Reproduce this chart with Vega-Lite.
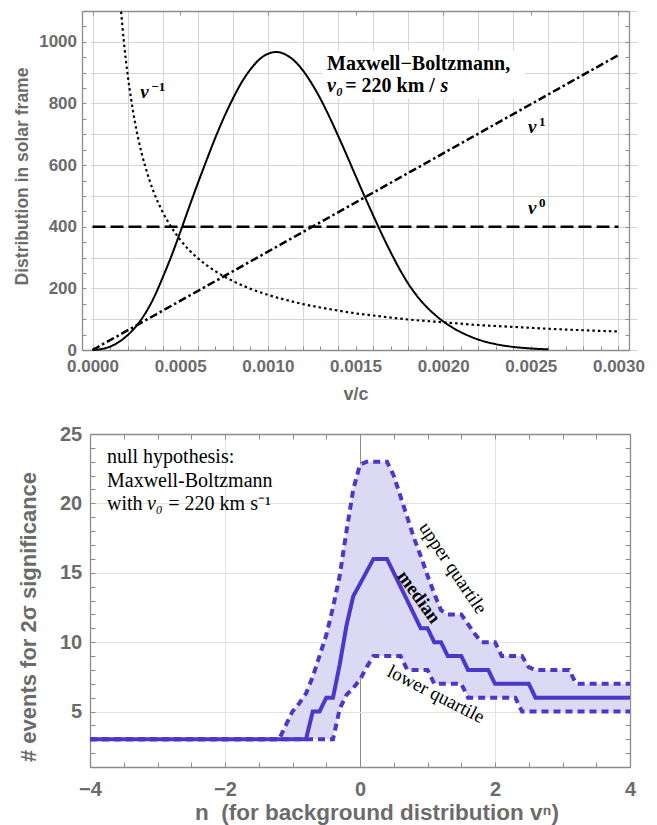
{
  "$schema": "https://vega.github.io/schema/vega-lite/v6.json",
  "padding": {"left": 13, "top": 2, "right": 10, "bottom": 2},
  "spacing": 21,
  "config": {
    "view": {"stroke": null},
    "font": "Liberation Sans",
    "axis": {
      "labelFont": "Liberation Sans", "titleFont": "Liberation Sans",
      "labelFontWeight": "bold", "titleFontWeight": "bold",
      "labelColor": "#6b6b6b", "titleColor": "#6b6b6b",
      "domainColor": "#8c8c8c", "tickColor": "#8c8c8c", "domainWidth": 1.3, "tickWidth": 1,
      "gridColor": "#d4d4d4", "gridWidth": 1,
      "labelOverlap": false, "labelFlush": false, "labelBound": false
    }
  },
  "datasets": {
    "curves": [
      {"curve": "MB", "v": 0, "f": 0}, {"curve": "MB", "v": 0.00005, "f": 3}, {"curve": "MB", "v": 0.0001, "f": 11},
      {"curve": "MB", "v": 0.00015, "f": 26}, {"curve": "MB", "v": 0.0002, "f": 48}, {"curve": "MB", "v": 0.00025, "f": 78},
      {"curve": "MB", "v": 0.0003, "f": 118}, {"curve": "MB", "v": 0.00035, "f": 170}, {"curve": "MB", "v": 0.0004, "f": 235},
      {"curve": "MB", "v": 0.00045, "f": 305}, {"curve": "MB", "v": 0.0005, "f": 382}, {"curve": "MB", "v": 0.00055, "f": 462},
      {"curve": "MB", "v": 0.0006, "f": 540}, {"curve": "MB", "v": 0.00065, "f": 615}, {"curve": "MB", "v": 0.0007, "f": 688},
      {"curve": "MB", "v": 0.00075, "f": 755}, {"curve": "MB", "v": 0.0008, "f": 815}, {"curve": "MB", "v": 0.00085, "f": 868},
      {"curve": "MB", "v": 0.0009, "f": 910}, {"curve": "MB", "v": 0.00095, "f": 942}, {"curve": "MB", "v": 0.001, "f": 961},
      {"curve": "MB", "v": 0.00105, "f": 967}, {"curve": "MB", "v": 0.0011, "f": 959}, {"curve": "MB", "v": 0.00115, "f": 939},
      {"curve": "MB", "v": 0.0012, "f": 907}, {"curve": "MB", "v": 0.00125, "f": 865}, {"curve": "MB", "v": 0.0013, "f": 815},
      {"curve": "MB", "v": 0.00135, "f": 758}, {"curve": "MB", "v": 0.0014, "f": 696}, {"curve": "MB", "v": 0.00145, "f": 632},
      {"curve": "MB", "v": 0.0015, "f": 566}, {"curve": "MB", "v": 0.00155, "f": 501}, {"curve": "MB", "v": 0.0016, "f": 438},
      {"curve": "MB", "v": 0.00165, "f": 376}, {"curve": "MB", "v": 0.0017, "f": 318}, {"curve": "MB", "v": 0.00175, "f": 264},
      {"curve": "MB", "v": 0.0018, "f": 216}, {"curve": "MB", "v": 0.00185, "f": 176}, {"curve": "MB", "v": 0.0019, "f": 143},
      {"curve": "MB", "v": 0.00195, "f": 116}, {"curve": "MB", "v": 0.002, "f": 93}, {"curve": "MB", "v": 0.00205, "f": 74},
      {"curve": "MB", "v": 0.0021, "f": 58}, {"curve": "MB", "v": 0.00215, "f": 45}, {"curve": "MB", "v": 0.0022, "f": 34},
      {"curve": "MB", "v": 0.0023, "f": 19}, {"curve": "MB", "v": 0.0024, "f": 10}, {"curve": "MB", "v": 0.0025, "f": 5},
      {"curve": "MB", "v": 0.0026, "f": 2},
      {"curve": "inv", "v": 0.000163, "f": 1098}, {"curve": "inv", "v": 0.00017, "f": 1053}, {"curve": "inv", "v": 0.00018, "f": 994},
      {"curve": "inv", "v": 0.00019, "f": 942}, {"curve": "inv", "v": 0.0002, "f": 895}, {"curve": "inv", "v": 0.00022, "f": 814},
      {"curve": "inv", "v": 0.00024, "f": 746}, {"curve": "inv", "v": 0.00026, "f": 688}, {"curve": "inv", "v": 0.00028, "f": 639},
      {"curve": "inv", "v": 0.0003, "f": 597}, {"curve": "inv", "v": 0.00035, "f": 511}, {"curve": "inv", "v": 0.0004, "f": 448},
      {"curve": "inv", "v": 0.00045, "f": 398}, {"curve": "inv", "v": 0.0005, "f": 358}, {"curve": "inv", "v": 0.00055, "f": 325},
      {"curve": "inv", "v": 0.0006, "f": 298}, {"curve": "inv", "v": 0.0007, "f": 256}, {"curve": "inv", "v": 0.0008, "f": 224},
      {"curve": "inv", "v": 0.0009, "f": 199}, {"curve": "inv", "v": 0.001, "f": 179}, {"curve": "inv", "v": 0.0011, "f": 163},
      {"curve": "inv", "v": 0.0012, "f": 149}, {"curve": "inv", "v": 0.0013, "f": 138}, {"curve": "inv", "v": 0.0014, "f": 128},
      {"curve": "inv", "v": 0.0015, "f": 119}, {"curve": "inv", "v": 0.0016, "f": 112}, {"curve": "inv", "v": 0.0018, "f": 99},
      {"curve": "inv", "v": 0.002, "f": 90}, {"curve": "inv", "v": 0.0022, "f": 81}, {"curve": "inv", "v": 0.0024, "f": 75},
      {"curve": "inv", "v": 0.0026, "f": 69}, {"curve": "inv", "v": 0.0028, "f": 64}, {"curve": "inv", "v": 0.003, "f": 60},
      {"curve": "flat", "v": 0, "f": 400}, {"curve": "flat", "v": 0.003, "f": 400},
      {"curve": "lin", "v": 0, "f": 0}, {"curve": "lin", "v": 0.003, "f": 957}
    ],
    "band": [
      {"n": -4.0, "lo": 3, "med": 3, "hi": 3},
      {"n": -1.3, "lo": 3, "med": 3, "hi": 3},
      {"n": -1.2, "lo": 3, "med": 3, "hi": 3},
      {"n": -1.1, "lo": 3, "med": 3, "hi": 4},
      {"n": -1.0, "lo": 3, "med": 3, "hi": 5},
      {"n": -0.9, "lo": 3, "med": 3, "hi": 5.6},
      {"n": -0.8, "lo": 3, "med": 3, "hi": 6.3},
      {"n": -0.7, "lo": 3, "med": 5, "hi": 7.5},
      {"n": -0.6, "lo": 3, "med": 5, "hi": 9},
      {"n": -0.5, "lo": 3, "med": 6, "hi": 10.5},
      {"n": -0.4, "lo": 3, "med": 6, "hi": 12.5},
      {"n": -0.3, "lo": 5.2, "med": 8.4, "hi": 14.8},
      {"n": -0.2, "lo": 6.2, "med": 11.2, "hi": 18},
      {"n": -0.1, "lo": 6.7, "med": 13.3, "hi": 21},
      {"n": 0.0, "lo": 7.3, "med": 14.2, "hi": 22.8},
      {"n": 0.1, "lo": 8.2, "med": 15.1, "hi": 23},
      {"n": 0.2, "lo": 9, "med": 16, "hi": 23},
      {"n": 0.3, "lo": 9, "med": 16, "hi": 23},
      {"n": 0.4, "lo": 9, "med": 16, "hi": 23},
      {"n": 0.5, "lo": 9, "med": 15, "hi": 22},
      {"n": 0.6, "lo": 9, "med": 14, "hi": 20.5},
      {"n": 0.7, "lo": 8, "med": 13, "hi": 19},
      {"n": 0.8, "lo": 8, "med": 12, "hi": 17.5},
      {"n": 0.9, "lo": 8, "med": 11, "hi": 16.2},
      {"n": 1.0, "lo": 8, "med": 11, "hi": 14.8},
      {"n": 1.1, "lo": 7, "med": 10, "hi": 13.5},
      {"n": 1.2, "lo": 7, "med": 10, "hi": 12.3},
      {"n": 1.3, "lo": 7, "med": 9, "hi": 12},
      {"n": 1.4, "lo": 7, "med": 9, "hi": 12},
      {"n": 1.5, "lo": 7, "med": 9, "hi": 12},
      {"n": 1.6, "lo": 6, "med": 8, "hi": 11.3},
      {"n": 1.7, "lo": 6, "med": 8, "hi": 10.6},
      {"n": 1.8, "lo": 6, "med": 8, "hi": 10},
      {"n": 1.9, "lo": 6, "med": 8, "hi": 10},
      {"n": 2.0, "lo": 6, "med": 7, "hi": 10},
      {"n": 2.1, "lo": 6, "med": 7, "hi": 9},
      {"n": 2.2, "lo": 6, "med": 7, "hi": 9},
      {"n": 2.3, "lo": 6, "med": 7, "hi": 9},
      {"n": 2.4, "lo": 5, "med": 7, "hi": 9},
      {"n": 2.5, "lo": 5, "med": 7, "hi": 8.2},
      {"n": 2.6, "lo": 5, "med": 6, "hi": 8},
      {"n": 2.7, "lo": 5, "med": 6, "hi": 8},
      {"n": 2.8, "lo": 5, "med": 6, "hi": 8},
      {"n": 2.9, "lo": 5, "med": 6, "hi": 8},
      {"n": 3.0, "lo": 5, "med": 6, "hi": 8},
      {"n": 3.1, "lo": 5, "med": 6, "hi": 8},
      {"n": 3.2, "lo": 5, "med": 6, "hi": 7},
      {"n": 3.3, "lo": 5, "med": 6, "hi": 7},
      {"n": 3.6, "lo": 5, "med": 6, "hi": 7},
      {"n": 4.0, "lo": 5, "med": 6, "hi": 7}
    ]
  },
  "vconcat": [
    {
      "width": 539,
      "height": 339,
      "layer": [
        {
          "data": {"values": [{}]},
          "mark": {"type": "rect", "fill": "white"},
          "encoding": {
            "x": {"datum": 0.00131, "type": "quantitative",
              "scale": {"domain": [-0.00006, 0.00306], "range": [-8, 539], "nice": false, "zero": false},
              "axis": {
                "orient": "top",
                "values": [0,0.0001,0.0002,0.0003,0.0004,0.0005,0.0006,0.0007,0.0008,0.0009,0.001,0.0011,0.0012,0.0013,0.0014,0.0015,0.0016,0.0017,0.0018,0.0019,0.002,0.0021,0.0022,0.0023,0.0024,0.0025,0.0026,0.0027,0.0028,0.0029,0.003],
                "labels": false, "tickSize": -4,
                "tickOpacity": {"condition": {"test": "round(datum.value*10000) % 5 == 0", "value": 1}, "value": 0},
                "grid": true,
                "gridOpacity": {"condition": {"test": "round(datum.value*10000) % 2 == 0", "value": 1}, "value": 0},
                "title": null
              }
            },
            "x2": {"datum": 0.002467},
            "y": {"datum": 971, "type": "quantitative",
              "scale": {"domain": [0, 1100], "nice": false, "zero": false},
              "axis": {
                "orient": "right",
                "values": [0,50,100,150,200,250,300,350,400,450,500,550,600,650,700,750,800,850,900,950,1000,1050,1100],
                "labels": false, "tickSize": -4,
                "grid": true,
                "gridOpacity": {"condition": {"test": "datum.value % 100 == 0", "value": 1}, "value": 0},
                "title": null
              }
            },
            "y2": {"datum": 815}
          }
        },
        {
          "data": {"name": "curves"},
          "mark": {"type": "line", "color": "black", "interpolate": "monotone", "strokeCap": "butt"},
          "encoding": {
            "x": {"field": "v", "type": "quantitative",
              "axis": {
                "orient": "bottom",
                "values": [0,0.0001,0.0002,0.0003,0.0004,0.0005,0.0006,0.0007,0.0008,0.0009,0.001,0.0011,0.0012,0.0013,0.0014,0.0015,0.0016,0.0017,0.0018,0.0019,0.002,0.0021,0.0022,0.0023,0.0024,0.0025,0.0026,0.0027,0.0028,0.0029,0.003],
                "labelExpr": "round(datum.value*10000) % 5 == 0 ? format(datum.value, '.4f') : ''",
                "labelFontSize": 17, "labelBaseline": "alphabetic", "labelPadding": 25.5,
                "tickSize": -4, "grid": false,
                "title": "v/c", "titleFontSize": 18, "titleBaseline": "alphabetic", "titleX": 265.5, "titleY": 49
              }
            },
            "y": {"field": "f", "type": "quantitative",
              "axis": {
                "orient": "left", "offset": 8,
                "values": [0,50,100,150,200,250,300,350,400,450,500,550,600,650,700,750,800,850,900,950,1000,1050,1100],
                "labelExpr": "datum.value % 200 == 0 ? format(datum.value, 'd') : ''",
                "labelFontSize": 17, "labelBaseline": "middle", "labelPadding": 9.5,
                "tickSize": -4, "grid": false,
                "title": "Distribution in solar frame", "titleFontSize": 17.5, "titleBaseline": "alphabetic", "titleX": -55, "titleY": 165
              }
            },
            "strokeDash": {"field": "curve", "type": "nominal",
              "scale": {"domain": ["MB", "inv", "flat", "lin"], "range": [[1, 0], [2.5, 3], [13, 5], [8, 3, 2.5, 3]]},
              "legend": null},
            "strokeWidth": {"field": "curve", "type": "nominal",
              "scale": {"domain": ["MB", "inv", "flat", "lin"], "range": [2, 2.5, 2.2, 2.2]},
              "legend": null}
          }
        },
        {
          "data": {"values": [{}]},
          "mark": {"type": "text", "font": "Liberation Serif", "fontSize": 20, "fontWeight": "bold", "align": "left", "baseline": "alphabetic", "color": "black", "text": "Maxwell−Boltzmann,"},
          "encoding": {"x": {"datum": 0.001338, "type": "quantitative", "axis": null}, "y": {"datum": 908, "type": "quantitative", "axis": null}}
        },
        {
          "data": {"values": [{}]},
          "mark": {"type": "text", "font": "Liberation Serif", "fontSize": 20, "fontWeight": "bold", "fontStyle": "italic", "align": "left", "baseline": "alphabetic", "color": "black", "text": "v₀"},
          "encoding": {"x": {"datum": 0.001338, "type": "quantitative", "axis": null}, "y": {"datum": 838, "type": "quantitative", "axis": null}}
        },
        {
          "data": {"values": [{}]},
          "mark": {"type": "text", "font": "Liberation Serif", "fontSize": 20, "fontWeight": "bold", "align": "left", "baseline": "alphabetic", "color": "black", "text": "= 220 km /"},
          "encoding": {"x": {"datum": 0.001441, "type": "quantitative", "axis": null}, "y": {"datum": 838, "type": "quantitative", "axis": null}}
        },
        {
          "data": {"values": [{}]},
          "mark": {"type": "text", "font": "Liberation Serif", "fontSize": 20, "fontWeight": "bold", "fontStyle": "italic", "align": "left", "baseline": "alphabetic", "color": "black", "text": "s"},
          "encoding": {"x": {"datum": 0.001985, "type": "quantitative", "axis": null}, "y": {"datum": 838, "type": "quantitative", "axis": null}}
        },
        {
          "data": {"values": [{}]},
          "mark": {"type": "text", "font": "Liberation Serif", "fontSize": 19, "fontWeight": "bold", "fontStyle": "italic", "align": "left", "baseline": "alphabetic", "color": "black", "text": "ν"},
          "encoding": {"x": {"datum": 0.000272, "type": "quantitative", "axis": null}, "y": {"datum": 818, "type": "quantitative", "axis": null}}
        },
        {
          "data": {"values": [{}]},
          "mark": {"type": "text", "font": "Liberation Serif", "fontSize": 13, "fontWeight": "bold", "align": "left", "baseline": "alphabetic", "color": "black", "text": "−1"},
          "encoding": {"x": {"datum": 0.000335, "type": "quantitative", "axis": null}, "y": {"datum": 840, "type": "quantitative", "axis": null}}
        },
        {
          "data": {"values": [{}]},
          "mark": {"type": "text", "font": "Liberation Serif", "fontSize": 19, "fontWeight": "bold", "fontStyle": "italic", "align": "left", "baseline": "alphabetic", "color": "black", "text": "ν"},
          "encoding": {"x": {"datum": 0.002484, "type": "quantitative", "axis": null}, "y": {"datum": 704, "type": "quantitative", "axis": null}}
        },
        {
          "data": {"values": [{}]},
          "mark": {"type": "text", "font": "Liberation Serif", "fontSize": 13, "fontWeight": "bold", "align": "left", "baseline": "alphabetic", "color": "black", "text": "1"},
          "encoding": {"x": {"datum": 0.002546, "type": "quantitative", "axis": null}, "y": {"datum": 726, "type": "quantitative", "axis": null}}
        },
        {
          "data": {"values": [{}]},
          "mark": {"type": "text", "font": "Liberation Serif", "fontSize": 19, "fontWeight": "bold", "fontStyle": "italic", "align": "left", "baseline": "alphabetic", "color": "black", "text": "ν"},
          "encoding": {"x": {"datum": 0.002484, "type": "quantitative", "axis": null}, "y": {"datum": 442, "type": "quantitative", "axis": null}}
        },
        {
          "data": {"values": [{}]},
          "mark": {"type": "text", "font": "Liberation Serif", "fontSize": 13, "fontWeight": "bold", "align": "left", "baseline": "alphabetic", "color": "black", "text": "0"},
          "encoding": {"x": {"datum": 0.002546, "type": "quantitative", "axis": null}, "y": {"datum": 464, "type": "quantitative", "axis": null}}
        }
      ]
    },
    {
      "width": 540,
      "height": 333,
      "layer": [
        {
          "data": {"name": "band"},
          "mark": {"type": "area", "color": "#dcd9f5", "opacity": 1},
          "encoding": {
            "x": {"field": "n", "type": "quantitative",
              "scale": {"domain": [-4, 4], "nice": false, "zero": false},
              "axis": {
                "orient": "bottom",
                "values": [-4,-3.5,-3,-2.5,-2,-1.5,-1,-0.5,0,0.5,1,1.5,2,2.5,3,3.5,4],
                "labelExpr": "datum.value % 2 == 0 ? format(datum.value, 'd') : ''",
                "labelFontSize": 20, "labelBaseline": "alphabetic", "labelPadding": 33.5,
                "tickSize": -5, "grid": false,
                "title": "n\u00a0 (for background distribution vⁿ)", "titleFontSize": 22.5, "titleBaseline": "alphabetic", "titleX": 286.5, "titleY": 52
              }
            },
            "y": {"field": "lo", "type": "quantitative",
              "scale": {"domain": [1, 25], "nice": false, "zero": false},
              "axis": {
                "orient": "left",
                "values": [1,2,3,4,5,6,7,8,9,10,11,12,13,14,15,16,17,18,19,20,21,22,23,24,25],
                "labelExpr": "datum.value % 5 == 0 ? format(datum.value, 'd') : ''",
                "labelFontSize": 20, "labelBaseline": "middle", "labelPadding": 13.3,
                "tickSize": -5, "grid": false,
                "title": "# events for 2σ significance", "titleFontSize": 22, "titleBaseline": "alphabetic", "titleX": -55, "titleY": 182.5
              }
            },
            "y2": {"field": "hi"}
          }
        },
        {
          "data": {"name": "band"},
          "mark": {"type": "line", "color": "#4b38c9", "strokeWidth": 4, "strokeDash": [7, 5], "strokeCap": "butt"},
          "encoding": {
            "x": {"field": "n", "type": "quantitative",
              "axis": {
                "orient": "top",
                "values": [-4,-3.5,-3,-2.5,-2,-1.5,-1,-0.5,0,0.5,1,1.5,2,2.5,3,3.5,4],
                "labels": false, "tickSize": -5, "grid": true,
                "gridOpacity": {"condition": {"test": "datum.value % 2 == 0 && abs(datum.value) < 4", "value": 1}, "value": 0},
                "gridColor": {"condition": {"test": "datum.value == 0", "value": "#8c8c8c"}, "value": "#e3e3e3"},
                "title": null
              }
            },
            "y": {"field": "hi", "type": "quantitative",
              "axis": {
                "orient": "right",
                "values": [1,2,3,4,5,6,7,8,9,10,11,12,13,14,15,16,17,18,19,20,21,22,23,24,25],
                "labels": false, "tickSize": -5, "grid": true,
                "gridOpacity": {"condition": {"test": "datum.value % 5 == 0 && datum.value < 25", "value": 1}, "value": 0},
                "gridColor": "#e3e3e3",
                "title": null
              }
            }
          }
        },
        {
          "data": {"name": "band"},
          "mark": {"type": "line", "color": "#4b38c9", "strokeWidth": 4, "strokeDash": [7, 5], "strokeCap": "butt"},
          "encoding": {
            "x": {"field": "n", "type": "quantitative", "axis": null},
            "y": {"field": "lo", "type": "quantitative", "axis": null}
          }
        },
        {
          "data": {"name": "band"},
          "mark": {"type": "line", "color": "#4b38c9", "strokeWidth": 4},
          "encoding": {
            "x": {"field": "n", "type": "quantitative", "axis": null},
            "y": {"field": "med", "type": "quantitative", "axis": null}
          }
        },
        {
          "data": {"values": [{}]},
          "mark": {"type": "text", "font": "Liberation Serif", "fontSize": 20, "align": "left", "baseline": "alphabetic", "color": "black", "text": "null hypothesis:"},
          "encoding": {"x": {"datum": -3.748, "type": "quantitative", "axis": null}, "y": {"datum": 22.89, "type": "quantitative", "axis": null}}
        },
        {
          "data": {"values": [{}]},
          "mark": {"type": "text", "font": "Liberation Serif", "fontSize": 20, "align": "left", "baseline": "alphabetic", "color": "black", "text": "Maxwell-Boltzmann"},
          "encoding": {"x": {"datum": -3.748, "type": "quantitative", "axis": null}, "y": {"datum": 21.2, "type": "quantitative", "axis": null}}
        },
        {
          "data": {"values": [{}]},
          "mark": {"type": "text", "font": "Liberation Serif", "fontSize": 20, "align": "left", "baseline": "alphabetic", "color": "black", "text": "with"},
          "encoding": {"x": {"datum": -3.748, "type": "quantitative", "axis": null}, "y": {"datum": 19.52, "type": "quantitative", "axis": null}}
        },
        {
          "data": {"values": [{}]},
          "mark": {"type": "text", "font": "Liberation Serif", "fontSize": 20, "fontStyle": "italic", "align": "left", "baseline": "alphabetic", "color": "black", "text": "v₀"},
          "encoding": {"x": {"datum": -3.156, "type": "quantitative", "axis": null}, "y": {"datum": 19.52, "type": "quantitative", "axis": null}}
        },
        {
          "data": {"values": [{}]},
          "mark": {"type": "text", "font": "Liberation Serif", "fontSize": 20, "align": "left", "baseline": "alphabetic", "color": "black", "text": "= 220 km s⁻¹"},
          "encoding": {"x": {"datum": -2.84, "type": "quantitative", "axis": null}, "y": {"datum": 19.52, "type": "quantitative", "axis": null}}
        },
        {
          "data": {"values": [{}]},
          "mark": {"type": "text", "font": "Liberation Serif", "fontSize": 19, "align": "center", "baseline": "middle", "color": "black", "angle": 56, "text": "upper quartile"},
          "encoding": {"x": {"datum": 1.378, "type": "quantitative", "axis": null}, "y": {"datum": 15.34, "type": "quantitative", "axis": null}}
        },
        {
          "data": {"values": [{}]},
          "mark": {"type": "text", "font": "Liberation Serif", "fontSize": 19, "fontWeight": "bold", "align": "center", "baseline": "middle", "color": "black", "angle": 54, "text": "median"},
          "encoding": {"x": {"datum": 0.874, "type": "quantitative", "axis": null}, "y": {"datum": 13.25, "type": "quantitative", "axis": null}}
        },
        {
          "data": {"values": [{}]},
          "mark": {"type": "text", "font": "Liberation Serif", "fontSize": 19, "align": "center", "baseline": "middle", "color": "black", "angle": 27, "text": "lower quartile"},
          "encoding": {"x": {"datum": 1.126, "type": "quantitative", "axis": null}, "y": {"datum": 6.25, "type": "quantitative", "axis": null}}
        }
      ]
    }
  ]
}
